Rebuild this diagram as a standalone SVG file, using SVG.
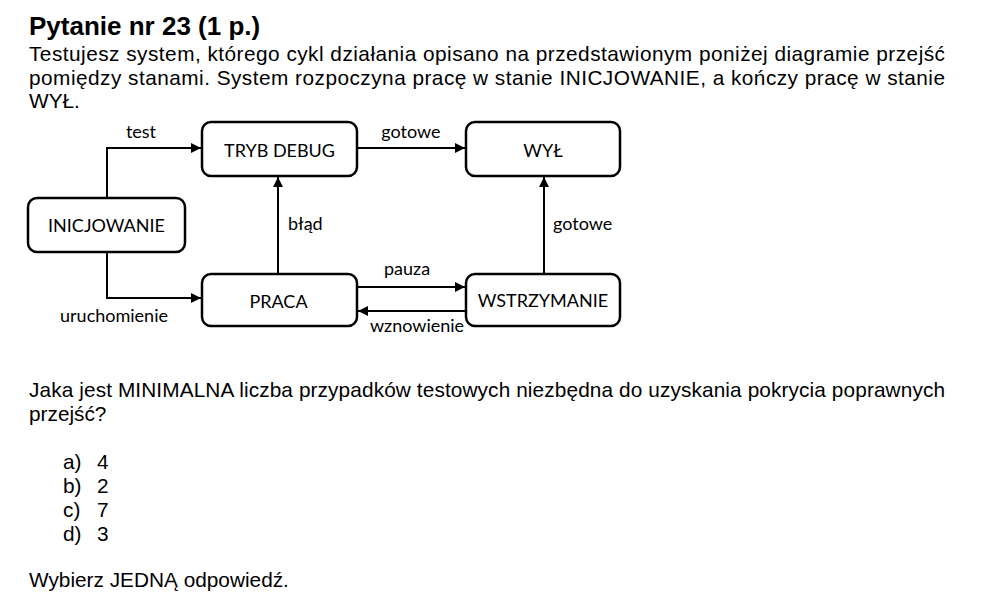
<svg xmlns="http://www.w3.org/2000/svg" width="986" height="601" viewBox="0 0 986 601">
<style>
.t{font-family:"Liberation Sans",Arial,sans-serif;font-size:20.8px;fill:#000}
.h{font-family:"Liberation Sans",Arial,sans-serif;font-size:26px;font-weight:bold;fill:#000}
.d{font-family:Lato,"Liberation Sans",sans-serif;font-size:18px;fill:#000}
.box{fill:#fff;stroke:#000;stroke-width:2.5}
.c{fill:none;stroke:#000;stroke-width:2}
</style>
<defs>
<marker id="ah" viewBox="0 0 10 10" refX="10" refY="5" markerWidth="10" markerHeight="10" markerUnits="userSpaceOnUse" orient="auto">
<path d="M0,0 L10,5 L0,10 z" fill="#000"/>
</marker>
</defs>
<rect width="986" height="601" fill="#fff"/>
<text class="h" x="29" y="35">Pytanie nr 23 (1 p.)</text>
<text class="t" x="29" y="61" textLength="916">Testujesz system, którego cykl działania opisano na przedstawionym poniżej diagramie przejść</text>
<text class="t" x="29" y="85" textLength="916">pomiędzy stanami. System rozpoczyna pracę w stanie INICJOWANIE, a kończy pracę w stanie</text>
<text class="t" x="29" y="108">WYŁ.</text>

<g id="connectors">
<path class="c" d="M107,198 V148 H201" marker-end="url(#ah)"/>
<path class="c" d="M107,252 V298 H201" marker-end="url(#ah)"/>
<path class="c" d="M278,274 V177" marker-end="url(#ah)"/>
<path class="c" d="M357,148 H465" marker-end="url(#ah)"/>
<path class="c" d="M544,274 V177" marker-end="url(#ah)"/>
<path class="c" d="M357,287 H465" marker-end="url(#ah)"/>
<path class="c" d="M466,311 H358" marker-end="url(#ah)"/>
<text class="d" x="141" y="138" text-anchor="middle">test</text>
<text class="d" x="114" y="322" text-anchor="middle">uruchomienie</text>
<text class="d" x="288" y="230">błąd</text>
<text class="d" x="411" y="138" text-anchor="middle">gotowe</text>
<text class="d" x="553" y="230">gotowe</text>
<text class="d" x="407" y="275" text-anchor="middle">pauza</text>
<text class="d" x="417" y="332" text-anchor="middle">wznowienie</text>
</g>

<g id="node-tryb-debug">
<rect class="box" x="202" y="122" width="155" height="54" rx="9"/>
<text class="d" x="279.5" y="157" text-anchor="middle">TRYB DEBUG</text>
</g>
<g id="node-wyl">
<rect class="box" x="466" y="122" width="154" height="54" rx="9"/>
<text class="d" x="543" y="157" text-anchor="middle">WYŁ</text>
</g>
<g id="node-inicjowanie">
<rect class="box" x="28" y="198" width="157" height="54" rx="9"/>
<text class="d" x="106.5" y="232" text-anchor="middle">INICJOWANIE</text>
</g>
<g id="node-praca">
<rect class="box" x="202" y="274" width="155" height="52" rx="9"/>
<text class="d" x="278.5" y="308" text-anchor="middle">PRACA</text>
</g>
<g id="node-wstrzymanie">
<rect class="box" x="466" y="274" width="154" height="52" rx="9"/>
<text class="d" x="543" y="307" text-anchor="middle">WSTRZYMANIE</text>
</g>

<text class="t" x="29" y="397" textLength="916">Jaka jest MINIMALNA liczba przypadków testowych niezbędna do uzyskania pokrycia poprawnych</text>
<text class="t" x="29" y="421">przejść?</text>
<text class="t" x="63" y="469">a)</text><text class="t" x="97" y="469">4</text>
<text class="t" x="63" y="493">b)</text><text class="t" x="97" y="493">2</text>
<text class="t" x="63" y="517">c)</text><text class="t" x="97" y="517">7</text>
<text class="t" x="63" y="541">d)</text><text class="t" x="97" y="541">3</text>
<text class="t" x="29" y="587">Wybierz JEDNĄ odpowiedź.</text>
</svg>
